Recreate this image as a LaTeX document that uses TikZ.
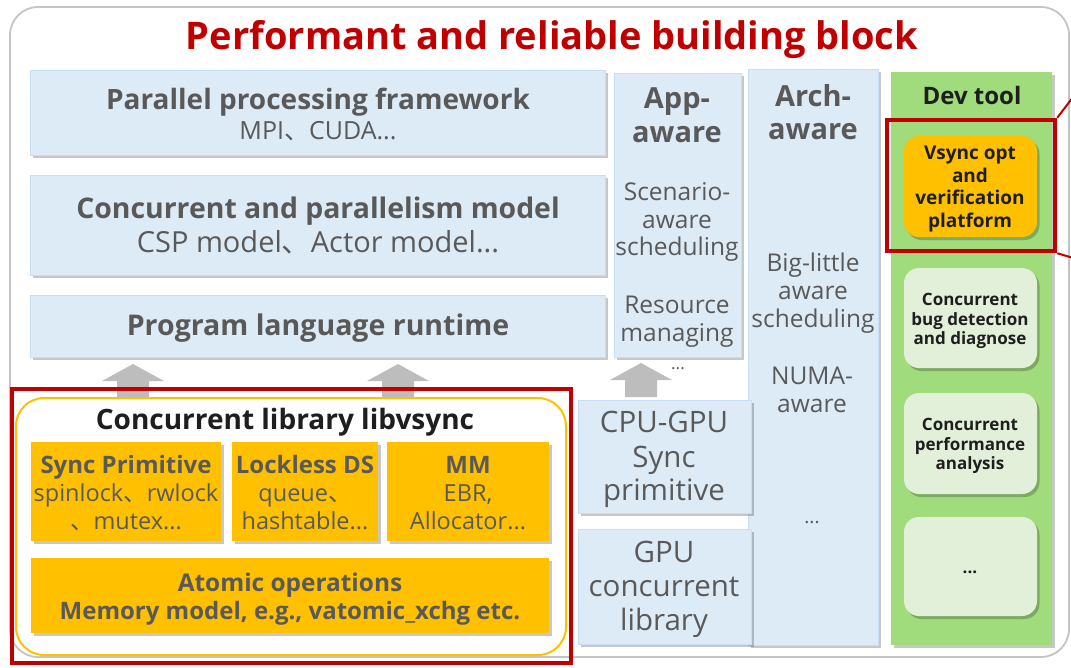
\documentclass[tikz,border=0pt]{standalone}
\usepackage{fontspec}
\setmainfont{Open Sans}
\newfontfamily\cjkfont{Noto Sans CJK SC}
\newcommand{\dunhao}{{\cjkfont 、}}
\usetikzlibrary{shadows,fit}

\definecolor{titlered}{HTML}{C00000}
\definecolor{txtgray}{HTML}{595959}
\definecolor{txtdark}{HTML}{1E1E1E}
\definecolor{paleblue}{HTML}{DDEBF7}
\definecolor{blueedge}{HTML}{C6DFF6}
\definecolor{amber}{HTML}{FFC000}
\definecolor{devgreen}{HTML}{A0DB7C}
\definecolor{palegreen}{HTML}{E2F0D9}
\definecolor{framegray}{HTML}{C4C4C4}
\definecolor{arrowgray}{HTML}{BDBDBD}

\tikzset{
  rg/.style={font=\fontsize{#1}{#1}\selectfont},
  bd/.style={font=\fontsize{#1}{#1}\selectfont\bfseries},
  lbl/.style={inner sep=0pt, anchor=base, text=txtgray},
  dlbl/.style={inner sep=0pt, anchor=base, text=txtdark},
  softshadow/.style={drop shadow={shadow xshift=2.5pt, shadow yshift=-3pt, fill=black, opacity=0.22}},
  bluebox/.style={draw=blueedge, line width=1pt, fill=paleblue, inner sep=0pt, softshadow},
  amberbox/.style={fill=amber, inner sep=0pt, softshadow},
  toolbox/.style={fill=palegreen, rounded corners=15pt, inner sep=0pt, softshadow},
  vsyncbox/.style={fill=amber, rounded corners=15pt, inner sep=0pt, softshadow},
  greencol/.style={fill=devgreen, inner sep=0pt, softshadow},
  blockarrow/.style={fill=arrowgray},
  redframe/.style={draw=titlered, line width=4.5pt, inner sep=0pt},
  calloutline/.style={draw=titlered, line width=2pt},
}

\begin{document}
\begin{tikzpicture}[x=1pt,y=-1pt]
\useasboundingbox (0,0) rectangle (1071,667);

% outer frame and headline
\node[draw=framegray, line width=1.8pt, rounded corners=28pt, inner sep=0pt, fit={(10,7)(1069,657)}] (frame) {};
\node[inner sep=0pt, anchor=base, text=titlered, bd=38] (title) at (552,49) {Performant and reliable building block};

% software stack on the left
\node[bluebox, fit={(30,70)(605,155)}] (ppf) {};
\node[lbl, bd=28] (ppfA) at (318,109) {Parallel processing framework};
\node[lbl, rg=25] (ppfB) at (318,139) {MPI\dunhao CUDA...};

\node[bluebox, fit={(30,175)(605,275)}] (cpm) {};
\node[lbl, bd=28.4] (cpmA) at (318,218) {Concurrent and parallelism model};
\node[lbl, rg=29] (cpmB) at (318,252) {CSP model\dunhao Actor model...};

\node[bluebox, fit={(30,295)(605,357)}] (plr) {};
\node[lbl, bd=28.5] (plrA) at (318,335) {Program language runtime};

% application-aware column
\node[bluebox, fit={(614,73)(741,357)}] (app) {};
\node[lbl, bd=29] (appA) at (677,108) {App-};
\node[lbl, bd=29] (appB) at (677,142) {aware};
\node[lbl, rg=24.5] (appC) at (677,200) {Scenario-};
\node[lbl, rg=24.5] (appD) at (677,228) {aware};
\node[lbl, rg=24.5] (appE) at (677,255) {scheduling};
\node[lbl, rg=24.5] (appF) at (677,313) {Resource};
\node[lbl, rg=24.5] (appG) at (677,341) {managing};
\node[lbl, rg=17] (appDots) at (678,369) {...};

% architecture-aware column
\node[bluebox, fit={(748,69)(878,645)}] (arch) {};
\node[lbl, bd=29] (archA) at (813,106) {Arch-};
\node[lbl, bd=29] (archB) at (813,139) {aware};
\node[lbl, rg=24.5] (archC) at (813,271) {Big-little};
\node[lbl, rg=24.5] (archD) at (813,299) {aware};
\node[lbl, rg=24.5] (archE) at (813,327) {scheduling};
\node[lbl, rg=24.5] (archF) at (812,384) {NUMA-};
\node[lbl, rg=24.5] (archG) at (812,412) {aware};
\node[lbl, rg=19] (archDots) at (812,523) {...};

% GPU side
\node[bluebox, fit={(578,400)(751,513)}] (cgs) {};
\node[lbl, rg=29.5] (cgsA) at (664,432) {CPU-GPU};
\node[lbl, rg=29.5] (cgsB) at (664,467) {Sync};
\node[lbl, rg=29.5] (cgsC) at (664,500) {primitive};

\node[bluebox, fit={(578,529)(751,644)}] (gcl) {};
\node[lbl, rg=29.5] (gclA) at (664,562) {GPU};
\node[lbl, rg=29.5] (gclB) at (664,596) {concurrent};
\node[lbl, rg=29.5] (gclC) at (664,630) {library};

% developer tools column
\node[greencol, fit={(891,72)(1052,645)}] (dev) {};
\node[dlbl, bd=24] (devT) at (972,104) {Dev tool};

\node[vsyncbox, fit={(904,136)(1037,237)}] (vsync) {};
\node[dlbl, bd=19] (vsA) at (970,159) {Vsync opt};
\node[dlbl, bd=19] (vsB) at (970,182) {and};
\node[dlbl, bd=19] (vsC) at (970,204) {verification};
\node[dlbl, bd=19] (vsD) at (970,227) {platform};

\node[toolbox, fit={(904,268)(1037,368)}] (bug) {};
\node[dlbl, bd=17] (bugA) at (970,305) {Concurrent};
\node[dlbl, bd=17] (bugB) at (970,325) {bug detection};
\node[dlbl, bd=17] (bugC) at (970,344) {and diagnose};

\node[toolbox, fit={(904,393)(1037,494)}] (perf) {};
\node[dlbl, bd=17] (perfA) at (970,430) {Concurrent};
\node[dlbl, bd=17] (perfB) at (970,450) {performance};
\node[dlbl, bd=17] (perfC) at (970,469) {analysis};

\node[toolbox, fit={(904,517)(1037,616)}] (more) {};
\node[dlbl, bd=17] (moreT) at (970,573) {...};

% highlight around the verification platform, with its call-out lines
\node[redframe, fit={(887,120)(1055,251)}] (hl) {};
\coordinate (calloutTop) at (1080,88);
\coordinate (calloutBot) at (1080,260);
\draw[calloutline] (hl.north east) -- (calloutTop);
\draw[calloutline] (hl.south east) -- (calloutBot);

% upward block arrows into the runtime and GPU layers
\coordinate (tipA) at (133,364);
\coordinate (tipB) at (398,364);
\coordinate (tipC) at (641,363);
\foreach \t in {tipA,tipB,tipC}
  \fill[blockarrow] (\t) -- ++(31,17) -- ++(-15,0) -- ++(0,17) -- ++(-32,0) -- ++(0,-17) -- ++(-15,0) -- cycle;

% concurrent library libvsync
\node[draw=amber, line width=2pt, fill=white, rounded corners=28pt, inner sep=0pt, fit={(16,398)(566,655)}] (libv) {};
\node[dlbl, bd=28] (libvT) at (285,429) {Concurrent library libvsync};

\node[amberbox, fit={(31,442)(221,541)}] (sync) {};
\node[lbl, bd=24] (syncA) at (126,473) {Sync Primitive};
\node[lbl, rg=23.5] (syncB) at (126,501) {spinlock\dunhao rwlock};
\node[lbl, rg=23.5] (syncC) at (126,529) {\dunhao mutex...};

\node[amberbox, fit={(232,442)(378,541)}] (ds) {};
\node[lbl, bd=24] (dsA) at (305,473) {Lockless DS};
\node[lbl, rg=23.5] (dsB) at (305,501) {queue\dunhao};
\node[lbl, rg=23.5] (dsC) at (305,529) {hashtable...};

\node[amberbox, fit={(387,442)(549,541)}] (mm) {};
\node[lbl, bd=24] (mmA) at (468,473) {MM};
\node[lbl, rg=23.5] (mmB) at (468,501) {EBR,};
\node[lbl, rg=23.5] (mmC) at (468,529) {Allocator...};

\node[amberbox, fit={(31,558)(549,633)}] (atom) {};
\node[lbl, bd=24.4] (atomA) at (290,591) {Atomic operations};
\node[lbl, bd=24] (atomB) at (290,619) {Memory model, e.g., vatomic\_xchg etc.};

\node[redframe, fit={(12,389)(571,663)}] (libred) {};
\end{tikzpicture}
\end{document}
